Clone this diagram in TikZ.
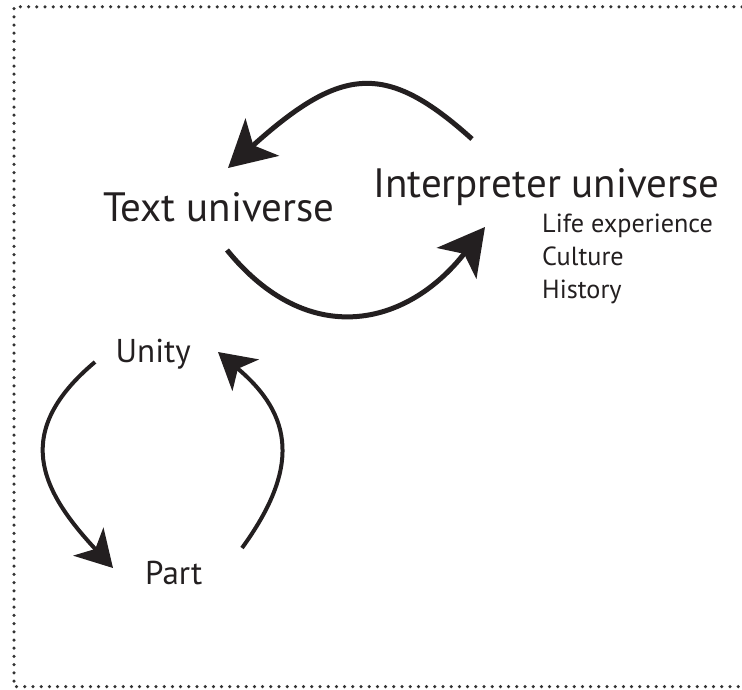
\documentclass[tikz,border=0pt]{standalone}
\usepackage{fontspec}
\setmainfont{PT Sans}
\usetikzlibrary{arrows.meta}
\definecolor{ink}{HTML}{231F20}
\begin{document}
\begin{tikzpicture}[x=1pt,y=-1pt,
  lbl/.style={inner sep=0pt,anchor=base west,text=ink},
  big/.style={lbl,font=\fontsize{41}{42}\selectfont},
  small/.style={lbl,font=\fontsize{26.2}{28}\selectfont},
  mid/.style={lbl,font=\fontsize{33}{34}\selectfont},
  bigarrow/.style={draw=ink,line width=5pt,-{Stealth[length=46pt,width=50pt,inset=12pt]}},
  smallarrow/.style={draw=ink,line width=4pt,-{Stealth[length=36pt,width=41pt,inset=10pt]}},
  frame/.style={draw=black!80,line width=3.5pt,line cap=round,dash pattern=on 0pt off 8.2pt}]
\useasboundingbox (0,0) rectangle (742,689);
\draw[frame] (742,6.8) -- (14,6.8) -- (14,686.6) -- (742,686.6);

\node[big] (tu) at (103,221.7) {Text universe};
\node[big] (iu) at (373,197.7) {Interpreter universe};
\node[small] (life) at (542,232) {Life experience};
\node[small] (cult) at (542,265.5) {Culture};
\node[small] (hist) at (542,298) {History};
\node[mid] (unity) at (115.5,362.3) {Unity};
\node[mid] (part) at (145,584.3) {Part};

\coordinate (a1s) at (472,139);
\coordinate (a1e) at (228,168);
\coordinate (a2s) at (227,250);
\coordinate (a2e) at (485,227);
\coordinate (a3s) at (95,362);
\coordinate (a3e) at (113,568);
\coordinate (a4s) at (242,548);
\coordinate (a4e) at (218,352);

\draw[bigarrow] (a1s) to[out=138,in=42,out looseness=1.2,in looseness=1.6] (a1e);
\draw[bigarrow] (a2s) to[out=-51,in=-128,looseness=1.26] (a2e);
\draw[smallarrow] (a3s) to[out=220,in=133,looseness=1.34] (a3e);
\draw[smallarrow] (a4s) to[out=54,in=320,looseness=1.28] (a4e);
\end{tikzpicture}
\end{document}
